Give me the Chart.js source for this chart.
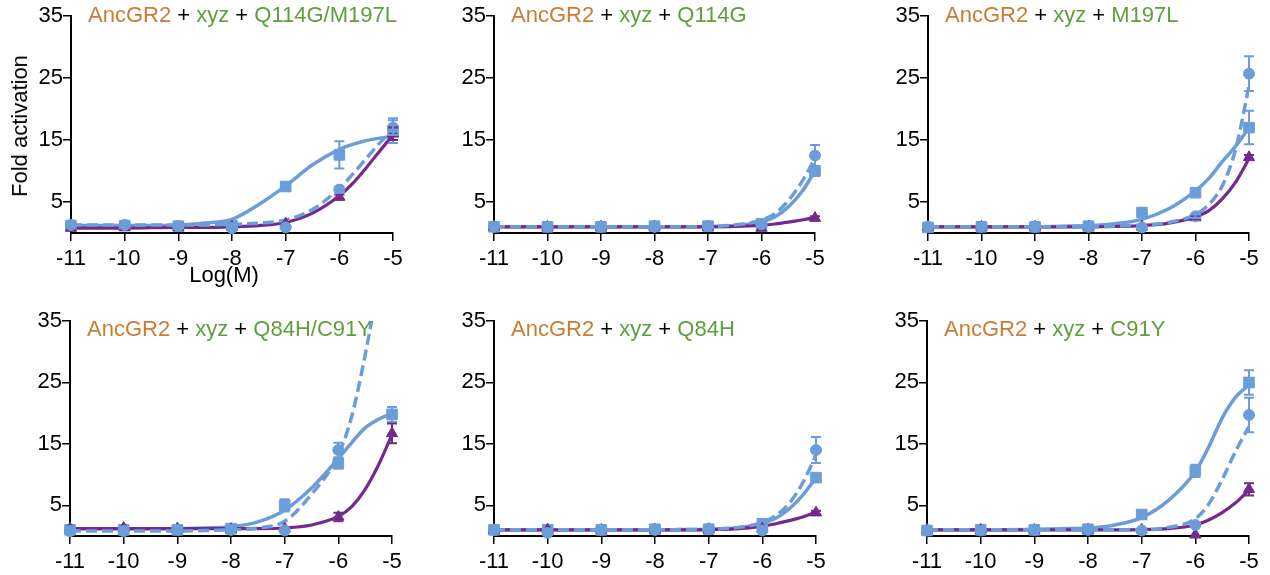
<!DOCTYPE html>
<html>
<head>
<meta charset="utf-8">
<script src="https://cdn.jsdelivr.net/npm/chart.js@4.4.1/dist/chart.umd.min.js"></script>
<style>
  html, body { margin: 0; padding: 0; background: #fff; }
  body { width: 1270px; height: 575px; position: relative; overflow: hidden;
         font-family: "Liberation Sans", Arial, Helvetica, sans-serif; }
  canvas { position: absolute; }
  .ttl { position: absolute; font-size: 22px; line-height: 1; white-space: nowrap; color: #000; }
  .anc { color: #c97d33; }
  .grn { color: #5e9f3d; }
  .axt { position: absolute; font-size: 22px; line-height: 1; white-space: nowrap; color: #000;
         transform: translate(-50%, -50%); }
</style>
</head>
<body>
<script>
// ---------------- data ----------------
const doses = [-11, -10, -9, -8, -7, -6, -5];               // log(M) of measured points
const fitX  = [-11, -10, -9, -8.5, -8, -7.5, -7, -6.5, -6, -5.75, -5.5, -5.25, -5]; // sampled fit curve x
const xTicks = [-11, -10, -9, -8, -7, -6, -5];
const yTicks = [5, 15, 25, 35];
const ancName = 'AncGR2';
const ligName = 'xyz';
const mutants = ['Q114G/M197L', 'Q114G', 'M197L', 'Q84H/C91Y', 'Q84H', 'C91Y'];

// Panel 1: Q114G/M197L
const sq1 = [1.2, 1.2, 1.1, 1.2, 7.5, 12.6, 16.5];
const sq1Err = [0, 0, 0, 0, 0.6, 2.2, 2.0];
const sq1Fit = [1.2, 1.2, 1.3, 1.6, 2.2, 4.6, 7.6, 11.0, 13.5, 14.3, 14.9, 15.3, 15.6];
const ci1 = [1.3, 1.3, 1.1, 0.8, 0.9, 7.0, 17.0];
const ci1Err = [0, 0, 0, 0, 0, 0.5, 1.2];
const ci1Fit = [1.3, 1.3, 1.3, 1.3, 1.4, 1.6, 2.1, 3.8, 7.2, 9.5, 12.0, 14.5, 16.6];
const tr1 = [0.8, 0.9, 0.9, 1.0, 1.5, 5.8, 16.0];
const tr1Err = [0, 0, 0, 0, 0, 0.4, 1.0];
const tr1Fit = [0.8, 0.8, 0.9, 0.9, 1.0, 1.2, 1.7, 3.2, 6.0, 8.0, 10.5, 13.2, 15.8];

// Panel 2: Q114G
const sq2 = [1.0, 1.0, 1.0, 1.1, 1.1, 1.5, 10.0];
const sq2Err = [0, 0, 0, 0, 0, 0, 0.8];
const sq2Fit = [1, 1, 1, 1, 1, 1, 1.05, 1.2, 1.8, 2.6, 4.2, 6.6, 10.0];
const ci2 = [1.0, 1.0, 1.0, 1.0, 1.1, 1.4, 12.5];
const ci2Err = [0, 0, 0, 0, 0, 0, 1.7];
const ci2Fit = [1, 1, 1, 1, 1, 1, 1.05, 1.3, 2.1, 3.1, 5.2, 8.2, 12.0];
const tr2 = [1.0, 1.0, 1.0, 1.0, 1.0, 0.8, 2.4];
const tr2Err = [0, 0, 0, 0, 0, 0, 0.3];
const tr2Fit = [1, 1, 1, 1, 1, 1, 1.0, 1.05, 1.25, 1.45, 1.75, 2.1, 2.5];

// Panel 3: M197L
const sq3 = [0.9, 1.0, 1.0, 1.1, 3.3, 6.5, 17.0];
const sq3Err = [0, 0, 0, 0, 0.3, 0.5, 2.7];
const sq3Fit = [1, 1, 1, 1.1, 1.2, 1.5, 2.2, 3.9, 6.8, 8.8, 11.5, 14.0, 17.0];
const ci3 = [1.0, 1.0, 1.0, 1.0, 0.9, 2.7, 25.7];
const ci3Err = [0, 0, 0, 0, 0, 0.3, 2.8];
const ci3Fit = [1, 1, 1, 1, 1, 1.1, 1.3, 1.7, 3.0, 4.6, 7.6, 13.5, 23.7];
const tr3 = [1.0, 1.0, 1.0, 1.0, 1.0, 2.5, 12.2];
const tr3Err = [0, 0, 0, 0, 0, 0.3, 0.4];
const tr3Fit = [1, 1, 1, 1, 1, 1.05, 1.2, 1.6, 2.6, 3.6, 5.5, 8.2, 12.0];

// Panel 4: Q84H/C91Y
const sq4 = [1.0, 1.0, 1.0, 1.2, 5.0, 11.8, 19.8];
const sq4Err = [0, 0, 0, 0, 1.0, 0.8, 1.2];
const sq4Fit = [1.2, 1.2, 1.2, 1.3, 1.5, 2.3, 4.2, 7.8, 12.6, 15.2, 17.6, 19.0, 20.0];
const ci4 = [0.8, 0.8, 1.0, 1.0, 0.9, 14.0, null];
const ci4Err = [0, 0, 0, 0, 0, 1.2, 0];
const ci4Fit = [0.8, 0.8, 0.8, 0.9, 1.0, 1.3, 2.4, 6.8, 13.2, 19.5, 29.5, 42, 60];
const tr4 = [1.2, 1.3, 1.2, 1.1, 1.2, 3.1, 16.7];
const tr4Err = [0, 0, 0, 0, 0, 0.7, 1.6];
const tr4Fit = [1.2, 1.2, 1.2, 1.2, 1.2, 1.2, 1.3, 1.8, 3.2, 4.8, 7.6, 11.6, 16.5];

// Panel 5: Q84H
const sq5 = [1.0, 1.0, 1.0, 1.1, 1.1, 2.0, 9.5];
const sq5Err = [0, 0, 0, 0, 0, 0, 0.5];
const sq5Fit = [1, 1, 1, 1, 1, 1.05, 1.1, 1.3, 2.1, 2.9, 4.4, 6.6, 9.5];
const ci5 = [1.0, 0.5, 1.0, 1.0, 1.1, 0.9, 14.0];
const ci5Err = [0, 0, 0, 0, 0, 0, 2.1];
const ci5Fit = [1, 1, 1, 1, 1, 1.05, 1.1, 1.35, 2.2, 3.3, 5.3, 8.6, 13.2];
const tr5 = [1.0, 1.0, 1.0, 1.0, 1.1, 1.2, 3.8];
const tr5Err = [0, 0, 0, 0, 0, 0, 0.3];
const tr5Fit = [1, 1, 1, 1, 1, 1, 1.05, 1.15, 1.6, 2.0, 2.5, 3.1, 3.9];

// Panel 6: C91Y
const sq6 = [0.9, 1.0, 1.0, 1.1, 3.5, 10.6, 25.0];
const sq6Err = [0, 0, 0, 0, 0.5, 1.0, 2.0];
const sq6Fit = [1, 1, 1.1, 1.2, 1.3, 1.8, 3.0, 5.8, 10.5, 14.5, 19.2, 22.6, 24.6];
const ci6 = [0.9, 0.9, 1.0, 1.0, 0.9, 1.8, 19.7];
const ci6Err = [0, 0, 0, 0, 0, 0.2, 2.8];
const ci6Fit = [1, 1, 1, 1, 1, 1, 1.0, 1.4, 2.8, 5.2, 9.2, 13.8, 17.8];
const tr6 = [1.0, 1.0, 1.0, 1.0, 1.0, 0.2, 7.6];
const tr6Err = [0, 0, 0, 0, 0, 0, 1.0];
const tr6Fit = [1, 1, 1, 1, 1, 1, 1.05, 1.2, 1.8, 2.6, 3.8, 5.4, 7.5];

// ---------------- layout / style ----------------
const BLUE = '#6b9dd9';
const PURPLE = '#74298d';
const FONT = '"Liberation Sans", Arial, Helvetica, sans-serif';

const panels = [
  { L: 71,  R: 393,  T: 16,  B: 233, sq: sq1, sqE: sq1Err, sqF: sq1Fit, ci: ci1, ciE: ci1Err, ciF: ci1Fit, tr: tr1, trE: tr1Err, trF: tr1Fit },
  { L: 494, R: 815,  T: 16,  B: 233, sq: sq2, sqE: sq2Err, sqF: sq2Fit, ci: ci2, ciE: ci2Err, ciF: ci2Fit, tr: tr2, trE: tr2Err, trF: tr2Fit },
  { L: 928, R: 1249, T: 16,  B: 233, sq: sq3, sqE: sq3Err, sqF: sq3Fit, ci: ci3, ciE: ci3Err, ciF: ci3Fit, tr: tr3, trE: tr3Err, trF: tr3Fit },
  { L: 70,  R: 392,  T: 321, B: 536, sq: sq4, sqE: sq4Err, sqF: sq4Fit, ci: ci4, ciE: ci4Err, ciF: ci4Fit, tr: tr4, trE: tr4Err, trF: tr4Fit },
  { L: 494, R: 816,  T: 321, B: 536, sq: sq5, sqE: sq5Err, sqF: sq5Fit, ci: ci5, ciE: ci5Err, ciF: ci5Fit, tr: tr5, trE: tr5Err, trF: tr5Fit },
  { L: 927, R: 1249, T: 321, B: 536, sq: sq6, sqE: sq6Err, sqF: sq6Fit, ci: ci6, ciE: ci6Err, ciF: ci6Fit, tr: tr6, trE: tr6Err, trF: tr6Fit },
];

const YW = 71, PADT = 16, PADR = 20, XH = 50;

const toPts = (xs, ys) => xs.map((x, i) => ({ x: x, y: ys[i] }));

const errorBars = {
  id: 'errorBars',
  afterDatasetsDraw(chart) {
    const ctx = chart.ctx, xs = chart.scales.x, ys = chart.scales.y;
    chart.data.datasets.forEach((ds) => {
      if (!ds.errors) return;
      ctx.save();
      ctx.strokeStyle = ds.borderColor;
      ctx.lineWidth = 2;
      ds.data.forEach((p, i) => {
        const e = ds.errors[i];
        if (p.y == null || !e) return;
        const x = xs.getPixelForValue(p.x);
        const y1 = ys.getPixelForValue(p.y + e);
        const y2 = ys.getPixelForValue(p.y - e);
        ctx.beginPath();
        ctx.moveTo(x, y1); ctx.lineTo(x, y2);
        ctx.moveTo(x - 5, y1); ctx.lineTo(x + 5, y1);
        ctx.moveTo(x - 5, y2); ctx.lineTo(x + 5, y2);
        ctx.stroke();
      });
      ctx.restore();
    });
  }
};

Chart.defaults.font.family = FONT;
Chart.defaults.color = '#000';

panels.forEach((p, idx) => {
  const cv = document.createElement('canvas');
  const w = (p.R - p.L) + YW + PADR;
  const h = (p.B - p.T) + PADT + XH;
  cv.width = w; cv.height = h;
  cv.style.left = (p.L - YW) + 'px';
  cv.style.top = (p.T - PADT) + 'px';
  cv.style.width = w + 'px'; cv.style.height = h + 'px';
  document.body.appendChild(cv);

  const fitLine = (ys, color, dash, width, order) => ({
    data: toPts(fitX, ys), showLine: true, pointRadius: 0, borderColor: color,
    backgroundColor: color, borderWidth: width, borderDash: dash, cubicInterpolationMode: 'monotone',
    order: order
  });
  const marks = (ys, errs, color, style, r, order) => ({
    data: toPts(doses, ys), showLine: false, pointStyle: style, pointRadius: r,
    backgroundColor: color, borderColor: color, borderWidth: 1, errors: errs, order: order, clip: 10
  });

  new Chart(cv, {
    type: 'scatter',
    data: {
      datasets: [
        fitLine(p.sqF, BLUE, [], 3.5, 6),
        fitLine(p.trF, PURPLE, [], 3.2, 5),
        fitLine(p.ciF, BLUE, [11, 5], 3.5, 4),
        marks(p.sq, p.sqE, BLUE, 'rect', 7.5, 3),
        marks(p.tr, p.trE, PURPLE, 'triangle', 6.5, 2),
        marks(p.ci, p.ciE, BLUE, 'circle', 5.5, 1),
      ]
    },
    options: {
      responsive: false,
      animation: false,
      devicePixelRatio: 1,
      events: [],
      layout: { padding: { left: 0, top: PADT, right: PADR, bottom: 0 } },
      plugins: { legend: { display: false }, tooltip: { enabled: false }, title: { display: false } },
      scales: {
        x: {
          type: 'linear', min: -11, max: -5,
          afterBuildTicks: (s) => { s.ticks = xTicks.map(v => ({ value: v })); },
          afterFit: (s) => { s.height = XH; s.paddingLeft = 0; s.paddingRight = 0; },
          ticks: { font: { size: 22 }, color: '#000', padding: 5, maxRotation: 0, autoSkip: false },
          grid: { display: true, drawOnChartArea: false, drawTicks: true, tickLength: 8, color: '#000', lineWidth: 1.5 },
          border: { display: true, color: '#000', width: 2 }
        },
        y: {
          type: 'linear', min: 0, max: 35,
          afterBuildTicks: (s) => { s.ticks = yTicks.map(v => ({ value: v })); },
          afterFit: (s) => { s.width = YW; s.paddingTop = 0; s.paddingBottom = 0; },
          ticks: { font: { size: 22 }, color: '#000', padding: 0, autoSkip: false },
          grid: { display: true, drawOnChartArea: false, drawTicks: true, tickLength: 8, color: '#000', lineWidth: 1.5 },
          border: { display: true, color: '#000', width: 2 }
        }
      }
    },
    plugins: [errorBars]
  });

  const t = document.createElement('div');
  t.className = 'ttl';
  t.style.left = (p.L + 17) + 'px';
  t.style.top = (p.T < 100 ? 4 : 318) + 'px';
  t.innerHTML = '<span class="anc">' + ancName + '</span> + <span class="grn">' + ligName +
                '</span> + <span class="grn">' + mutants[idx] + '</span>';
  document.body.appendChild(t);
});

// axis titles (first panel only)
const yt = document.createElement('div');
yt.className = 'axt';
yt.style.left = '20px'; yt.style.top = '126px';
yt.style.transform = 'translate(-50%, -50%) rotate(-90deg)';
yt.textContent = 'Fold activation';
document.body.appendChild(yt);

const xt = document.createElement('div');
xt.className = 'axt';
xt.style.left = '224px'; xt.style.top = '275px';
xt.textContent = 'Log(M)';
document.body.appendChild(xt);
</script>
</body>
</html>
